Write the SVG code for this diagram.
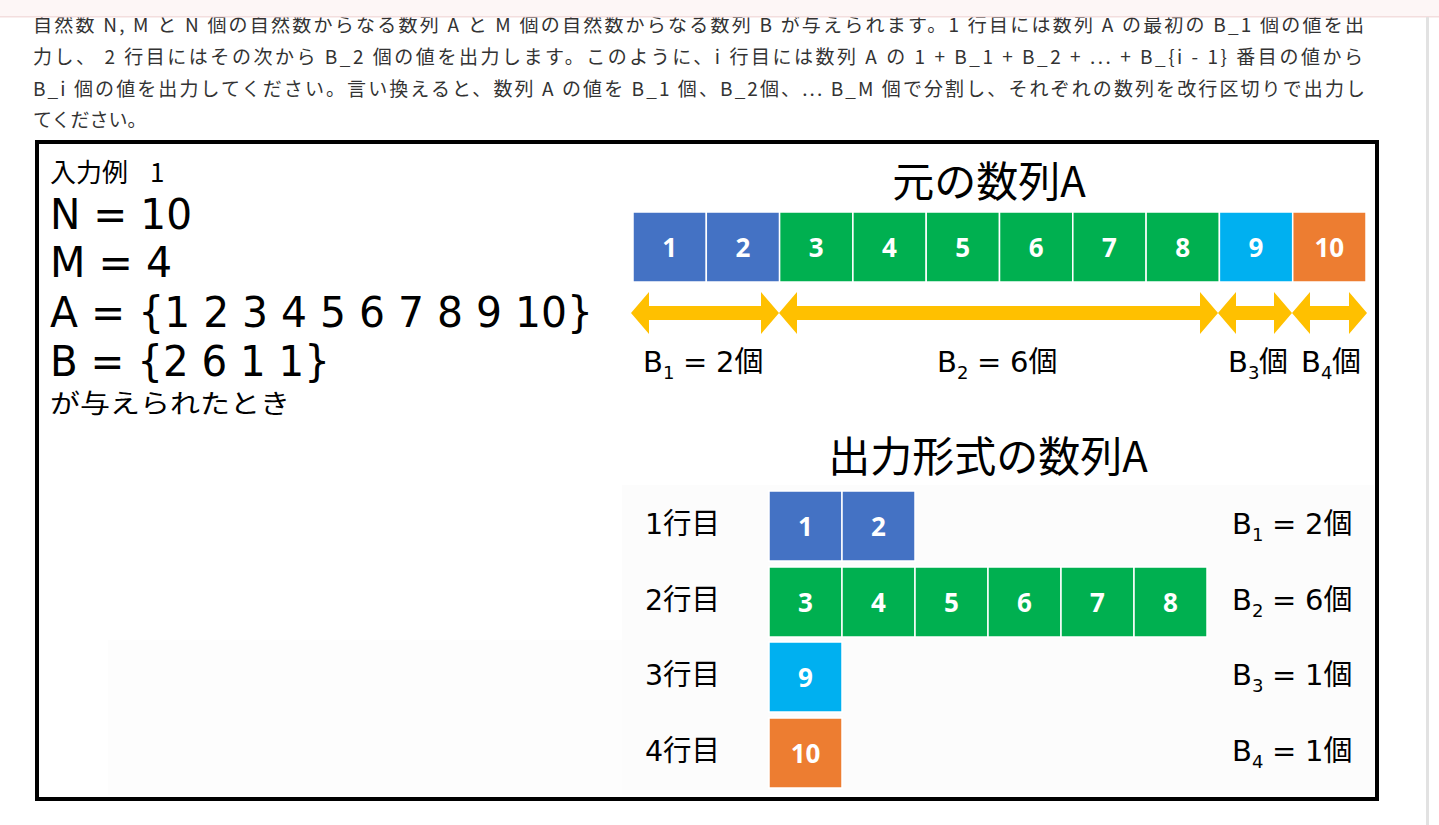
<svg xmlns="http://www.w3.org/2000/svg" width="1439" height="825" viewBox="0 0 1439 825">
<style>
.para{font-family:"Noto Sans CJK JP","Noto Sans",sans-serif;font-size:19px;fill:#333}
.lat{font-family:"DejaVu Sans","Noto Sans CJK JP",sans-serif;fill:#000}
.jp{font-family:"Noto Sans CJK JP","DejaVu Sans",sans-serif;fill:#000}
.num{font-family:"Open Sans","Liberation Sans",sans-serif;font-weight:bold;font-size:26px;fill:#fff;text-anchor:middle}
.lbl{font-family:"DejaVu Sans","Noto Sans CJK JP",sans-serif;font-size:29px;fill:#000}
.sub{font-size:18px}
.c1{fill:#4472C4}.c2{fill:#00B050}.c3{fill:#00B0F0}.c4{fill:#ED7D31}
.cell{stroke:#fff;stroke-width:1.5}
.arr{fill:#FFC000}
</style>
<rect width="1439" height="825" fill="#fff"/>
<g id="paragraph">
<text class="para" x="33" y="32" textLength="1331" lengthAdjust="spacing">自然数 N, M と N 個の自然数からなる数列 A と M 個の自然数からなる数列 B が与えられます。1 行目には数列 A の最初の B_1 個の値を出</text>
<text class="para" x="33" y="64" textLength="1330" lengthAdjust="spacing">力し、 2 行目にはその次から B_2 個の値を出力します。このように、i 行目には数列 A の 1 + B_1 + B_2 + ... + B_{i - 1} 番目の値から</text>
<text class="para" x="33" y="96" textLength="1332" lengthAdjust="spacing">B_i 個の値を出力してください。言い換えると、数列 A の値を B_1 個、B_2個、... B_M 個で分割し、それぞれの数列を改行区切りで出力し</text>
<text class="para" x="33" y="127">てください。</text>
</g>
<rect x="0" y="0" width="1439" height="16" fill="#fdf6f6"/>
<rect x="0" y="16" width="1439" height="1.5" fill="#f3dede"/>
<rect x="1426" y="17" width="3" height="808" fill="#e2e2e2"/>
<rect x="622" y="485" width="752" height="310" fill="#fcfcfc"/>
<rect x="108" y="640" width="514" height="155" fill="#fdfdfd"/>
<rect id="frame" x="37" y="142" width="1340" height="657" fill="none" stroke="#000" stroke-width="4"/>
<g id="input">
<text class="jp" font-size="26" y="182"><tspan x="50">入力例</tspan><tspan x="150">1</tspan></text>
<text class="lat" x="50" y="229" font-size="42" textLength="142" lengthAdjust="spacingAndGlyphs">N = 10</text>
<text class="lat" x="50" y="277" font-size="42" textLength="122" lengthAdjust="spacingAndGlyphs">M = 4</text>
<text class="lat" x="50" y="327" font-size="42" textLength="543" lengthAdjust="spacingAndGlyphs">A = {1 2 3 4 5 6 7 8 9 10}</text>
<text class="lat" x="50" y="376" font-size="42" textLength="280" lengthAdjust="spacingAndGlyphs">B = {2 6 1 1}</text>
<text class="jp" x="50" y="413" font-size="26" textLength="240" lengthAdjust="spacingAndGlyphs">が与えられたとき</text>
</g>
<g id="title-original"><text class="jp" x="989" y="197" font-size="42" text-anchor="middle">元の数列A</text></g>
<g id="seqA">
<rect class="cell c1" x="633" y="212" width="73.3" height="70"/><text class="num" x="669.6" y="257">1</text>
<rect class="cell c1" x="706.3" y="212" width="73.3" height="70"/><text class="num" x="742.9" y="257">2</text>
<rect class="cell c2" x="779.6" y="212" width="73.3" height="70"/><text class="num" x="816.2" y="257">3</text>
<rect class="cell c2" x="852.9" y="212" width="73.3" height="70"/><text class="num" x="889.5" y="257">4</text>
<rect class="cell c2" x="926.2" y="212" width="73.3" height="70"/><text class="num" x="962.8" y="257">5</text>
<rect class="cell c2" x="999.5" y="212" width="73.3" height="70"/><text class="num" x="1036.1" y="257">6</text>
<rect class="cell c2" x="1072.8" y="212" width="73.3" height="70"/><text class="num" x="1109.4" y="257">7</text>
<rect class="cell c2" x="1146.1" y="212" width="73.3" height="70"/><text class="num" x="1182.7" y="257">8</text>
<rect class="cell c3" x="1219.4" y="212" width="73.3" height="70"/><text class="num" x="1256" y="257">9</text>
<rect class="cell c4" x="1292.7" y="212" width="73.3" height="70"/><text class="num" x="1329.3" y="257">10</text>
</g>
<g id="connectors">
<polygon class="arr" points="631,313 649,292 649,306 761,306 761,292 779,313 761,334 761,320 649,320 649,334"/>
<polygon class="arr" points="779,313 797,292 797,306 1200,306 1200,292 1218,313 1200,334 1200,320 797,320 797,334"/>
<polygon class="arr" points="1218,313 1236,292 1236,306 1274,306 1274,292 1292,313 1274,334 1274,320 1236,320 1236,334"/>
<polygon class="arr" points="1292,313 1310,292 1310,306 1349,306 1349,292 1367,313 1349,334 1349,320 1310,320 1310,334"/>
</g>
<g id="labels-top">
<text class="lbl" y="372"><tspan x="643">B</tspan><tspan class="sub" x="663" y="379">1</tspan><tspan x="683" y="372">=</tspan><tspan x="716">2個</tspan></text>
<text class="lbl" y="372"><tspan x="937">B</tspan><tspan class="sub" x="957" y="379">2</tspan><tspan x="977" y="372">=</tspan><tspan x="1010">6個</tspan></text>
<text class="lbl" y="372"><tspan x="1228">B</tspan><tspan class="sub" x="1248" y="379">3</tspan><tspan x="1259" y="372">個</tspan></text>
<text class="lbl" y="372"><tspan x="1301">B</tspan><tspan class="sub" x="1321" y="379">4</tspan><tspan x="1332" y="372">個</tspan></text>
</g>
<g id="title-output"><text class="jp" x="988" y="472" font-size="42" text-anchor="middle">出力形式の数列A</text></g>
<g id="row1">
<text class="lbl" x="645" y="534" textLength="75" lengthAdjust="spacingAndGlyphs">1行目</text>
<rect class="cell c1" x="769" y="491" width="73" height="70"/><text class="num" x="805.5" y="536">1</text>
<rect class="cell c1" x="842" y="491" width="73" height="70"/><text class="num" x="878.5" y="536">2</text>
<text class="lbl" y="534"><tspan x="1232">B</tspan><tspan class="sub" x="1252" y="541">1</tspan><tspan x="1272" y="534">=</tspan><tspan x="1305">2個</tspan></text>
</g>
<g id="row2">
<text class="lbl" x="645" y="610" textLength="75" lengthAdjust="spacingAndGlyphs">2行目</text>
<rect class="cell c2" x="769" y="567" width="73" height="70"/><text class="num" x="805.5" y="612">3</text>
<rect class="cell c2" x="842" y="567" width="73" height="70"/><text class="num" x="878.5" y="612">4</text>
<rect class="cell c2" x="915" y="567" width="73" height="70"/><text class="num" x="951.5" y="612">5</text>
<rect class="cell c2" x="988" y="567" width="73" height="70"/><text class="num" x="1024.5" y="612">6</text>
<rect class="cell c2" x="1061" y="567" width="73" height="70"/><text class="num" x="1097.5" y="612">7</text>
<rect class="cell c2" x="1134" y="567" width="73" height="70"/><text class="num" x="1170.5" y="612">8</text>
<text class="lbl" y="610"><tspan x="1232">B</tspan><tspan class="sub" x="1252" y="617">2</tspan><tspan x="1272" y="610">=</tspan><tspan x="1305">6個</tspan></text>
</g>
<g id="row3">
<text class="lbl" x="645" y="685" textLength="75" lengthAdjust="spacingAndGlyphs">3行目</text>
<rect class="cell c3" x="769" y="642" width="73" height="70"/><text class="num" x="805.5" y="687">9</text>
<text class="lbl" y="685"><tspan x="1232">B</tspan><tspan class="sub" x="1252" y="692">3</tspan><tspan x="1272" y="685">=</tspan><tspan x="1305">1個</tspan></text>
</g>
<g id="row4">
<text class="lbl" x="645" y="761" textLength="75" lengthAdjust="spacingAndGlyphs">4行目</text>
<rect class="cell c4" x="769" y="718" width="73" height="70"/><text class="num" x="805.5" y="763">10</text>
<text class="lbl" y="761"><tspan x="1232">B</tspan><tspan class="sub" x="1252" y="768">4</tspan><tspan x="1272" y="761">=</tspan><tspan x="1305">1個</tspan></text>
</g>
</svg>
